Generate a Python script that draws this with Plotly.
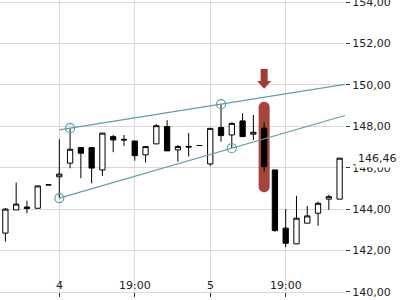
import plotly.graph_objects as go

# ---- data ----
idx = list(range(32))
open_ = [142.84, 143.96, 144.10, 144.04, 145.17, 145.56, 146.22, 146.97, 146.97, 145.89,
         147.50, 147.37, 147.29, 146.62, 147.15, 147.99, 146.86, 147.03, 147.07, 146.18,
         147.94, 147.58, 148.26, 147.62, 147.91, 145.89, 143.08, 142.32, 143.32, 143.80,
         144.48, 144.48]
high = [144.05, 145.28, 144.40, 145.12, 145.17, 147.38, 147.91, 146.97, 146.97, 147.67,
        147.58, 147.58, 147.29, 147.02, 148.10, 148.29, 147.10, 147.67, 147.07, 147.90,
        149.07, 148.19, 148.63, 148.55, 148.18, 145.89, 144.00, 144.64, 144.15, 144.36,
        144.69, 146.46]
low = [142.43, 143.96, 143.80, 144.04, 145.17, 144.53, 145.97, 145.49, 145.25, 145.60,
       146.75, 147.05, 146.34, 146.25, 147.15, 146.81, 146.29, 146.54, 147.07, 146.09,
       147.26, 146.94, 147.50, 147.34, 145.81, 142.91, 142.16, 142.32, 143.32, 143.20,
       143.96, 144.48]
close = [144.00, 144.24, 144.03, 145.12, 145.17, 145.69, 146.89, 146.70, 145.98, 147.67,
         147.34, 147.34, 146.58, 147.02, 148.03, 146.81, 147.02, 147.00, 147.07, 147.90,
         147.55, 148.14, 147.50, 147.71, 146.05, 142.96, 142.35, 143.56, 143.67, 144.28,
         144.60, 146.46]
tick_idx = [5, 12, 19, 26]
tick_text = ["4", "19:00", "5", "19:00"]
upper_anchor = [6, 20]     # highs
lower_anchor = [5, 21]     # lows
highlight_idx = 24

TEAL = "#5e9fa6"
RED = "#a03c32"
X_MIN, X_MAX = -0.5, 31.5
Y_MIN, Y_MAX = 139.995, 154.1
FONT = dict(family="DejaVu Sans", size=11, color="#222")

fig = go.Figure()

fig.add_trace(go.Candlestick(
    x=idx, open=open_, high=high, low=low, close=close,
    increasing=dict(line=dict(color="black", width=1), fillcolor="white"),
    decreasing=dict(line=dict(color="black", width=1), fillcolor="black"),
    whiskerwidth=0, showlegend=False, hoverinfo="skip"))

# trend lines
def line_pts(i0, v0, i1, v1, start, end):
    s = (v1 - v0) / (i1 - i0)
    return [start, end], [v0 + s * (start - i0), v0 + s * (end - i0)]

ux, uy = line_pts(upper_anchor[0], high[upper_anchor[0]], upper_anchor[1], high[upper_anchor[1]], 5, X_MAX)
lx, ly = line_pts(lower_anchor[0], low[lower_anchor[0]], lower_anchor[1], low[lower_anchor[1]], 5, X_MAX)
for xs, ys in [(ux, uy), (lx, ly)]:
    fig.add_trace(go.Scatter(x=xs, y=ys, mode="lines", line=dict(color=TEAL, width=1.2),
                             showlegend=False, hoverinfo="skip", cliponaxis=True))
fig.add_trace(go.Scatter(
    x=upper_anchor + lower_anchor,
    y=[high[i] for i in upper_anchor] + [low[i] for i in lower_anchor],
    mode="markers", marker=dict(symbol="circle-open", size=9, color=TEAL, line=dict(width=1.2)),
    showlegend=False, hoverinfo="skip"))

# highlight (rounded) around candle
PXX = 345 / (X_MAX - X_MIN)
PXY = 292 / (Y_MAX - Y_MIN)
hw = 5.5 / PXX
ry = 5.5 / PXY
k = 0.5523
xc = highlight_idx
x0, x1 = xc - hw, xc + hw
top = high[highlight_idx] + 1.0
bot = low[highlight_idx] - 1.0
path = (f"M {x0},{top-ry} C {x0},{top-ry+k*ry} {xc-k*hw},{top} {xc},{top} "
        f"C {xc+k*hw},{top} {x1},{top-ry+k*ry} {x1},{top-ry} "
        f"L {x1},{bot+ry} C {x1},{bot+ry-k*ry} {xc+k*hw},{bot} {xc},{bot} "
        f"C {xc-k*hw},{bot} {x0},{bot+ry-k*ry} {x0},{bot+ry} Z")
fig.add_shape(type="path", path=path, fillcolor=RED, line=dict(width=0), opacity=0.95,
              layer="between")

# arrow
tip = high[highlight_idx] + 1.63
head_top = high[highlight_idx] + 2.01
shaft_top = high[highlight_idx] + 2.59
hh = 7 / PXX
sh = 3.5 / PXX
apath = (f"M {xc-sh},{shaft_top} L {xc+sh},{shaft_top} L {xc+sh},{head_top} "
         f"L {xc+hh},{head_top} L {xc},{tip} L {xc-hh},{head_top} L {xc-sh},{head_top} Z")
fig.add_shape(type="path", path=apath, fillcolor=RED, line=dict(width=0))

# x tick labels sit just above the bottom axis line
for xi, txt in zip(tick_idx, tick_text):
    fig.add_annotation(xref="x", yref="paper", x=xi, y=0, xanchor="center", yanchor="bottom",
                       yshift=-1, text=txt, showarrow=False, font=FONT, borderpad=0)

# last price label
fig.add_annotation(xref="paper", yref="y", x=1, y=close[-1], xanchor="left", yanchor="middle",
                   xshift=10, text=f"{close[-1]:.2f}".replace(".", ","), showarrow=False,
                   bgcolor="white", borderpad=2, font=FONT)

fig.update_layout(
    width=400, height=300, margin=dict(l=0, r=55, t=0, b=8, autoexpand=False),
    paper_bgcolor="white", plot_bgcolor="white", separators=",.",
    font=FONT, showlegend=False,
    xaxis=dict(range=[X_MIN, X_MAX], tickvals=tick_idx, ticktext=tick_text, showticklabels=False,
               showgrid=True, gridcolor="#d9d9d9", gridwidth=1, automargin=False,
               ticks="outside", ticklen=4, tickcolor="#333",
               showline=True, linecolor="#d9d9d9", linewidth=1,
               rangeslider=dict(visible=False), zeroline=False, fixedrange=True),
    yaxis=dict(range=[Y_MIN, Y_MAX], side="right", dtick=2, tick0=140, tickformat=".2f",
               showgrid=True, gridcolor="#d9d9d9", gridwidth=1, ticklabeloverflow="allow",
               automargin=False,
               ticks="outside", ticklen=4, tickcolor="#333", zeroline=False, fixedrange=True),
)

fig.write_html("out.html")
